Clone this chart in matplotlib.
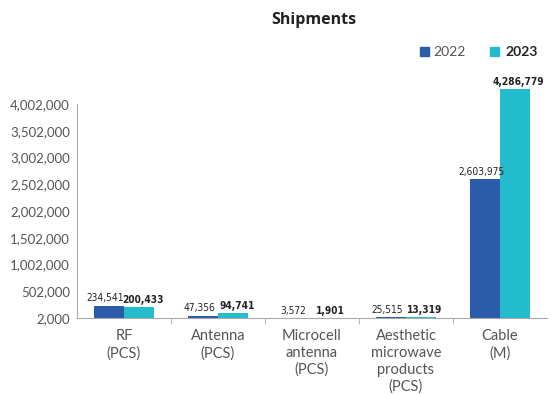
import numpy as np
import matplotlib.pyplot as plt

categories = ["RF\n(PCS)", "Antenna\n(PCS)", "Microcell\nantenna\n(PCS)",
              "Aesthetic\nmicrowave\nproducts\n(PCS)", "Cable\n(M)"]
values_2022 = [234541, 47356, 3572, 25515, 2603975]
values_2023 = [200433, 94741, 1901, 13319, 4286779]
y_ticks = [2000, 502000, 1002000, 1502000, 2002000, 2502000, 3002000, 3502000, 4002000]

c2022 = "#2a5caa"
c2023 = "#22bccc"

fig = plt.figure(figsize=(5.51, 3.94), dpi=100)
ax = fig.add_axes([0.1397, 0.193, 0.853, 0.597])

x = np.arange(len(categories))
w = 0.32
ax.bar(x - w / 2, values_2022, w, color=c2022)
ax.bar(x + w / 2, values_2023, w, color=c2023)

# value labels, spread a little apart like the original
for i in range(len(x)):
    ax.text(x[i] - w / 2 - 0.04, values_2022[i] + 40000, f"{values_2022[i]:,}",
            ha="center", va="bottom", fontsize=7.3, family="DejaVu Sans",
            fontstretch="condensed", color="#222222")
    ax.text(x[i] + w / 2 + 0.04, values_2023[i] + 40000, f"{values_2023[i]:,}",
            ha="center", va="bottom", fontsize=7.3, family="DejaVu Sans",
            fontstretch="condensed", fontweight="bold", color="#222222")

ax.set_xlim(-0.5, len(categories) - 0.5)
ax.set_ylim(2000, 4400000)
ax.set_yticks(y_ticks)
ax.set_yticklabels([f"{v:,}" for v in y_ticks], fontsize=9.5, color="#555555",
                   family="Lato")
ax.tick_params(axis="y", length=0, pad=5)

ax.set_xticks(x)
ax.set_xticklabels(categories, fontsize=10.5, color="#555555", family="Lato",
                   linespacing=1.25)
ax.tick_params(axis="x", which="major", length=0, pad=8)
ax.set_xticks(np.arange(0.5, len(categories) - 1, 1), minor=True)
ax.tick_params(axis="x", which="minor", length=4, color="#aaaaaa")

for s in ["top", "right"]:
    ax.spines[s].set_visible(False)
ax.spines["left"].set_bounds(2000, 4002000)
ax.spines["left"].set_color("#aaaaaa")
ax.spines["bottom"].set_color("#aaaaaa")

fig.text(0.57, 0.948, "Shipments", ha="center", va="center", fontsize=11.5,
         fontweight="bold", family="Open Sans", color="#222222")

# legend
fig.patches.append(plt.Rectangle((0.762, 0.857), 0.016, 0.024, color=c2022,
                                 transform=fig.transFigure, figure=fig))
fig.text(0.787, 0.868, "2022", va="center", fontsize=10, family="Lato",
         color="#555555")
fig.patches.append(plt.Rectangle((0.889, 0.857), 0.016, 0.024, color=c2023,
                                 transform=fig.transFigure, figure=fig))
fig.text(0.918, 0.868, "2023", va="center", fontsize=10, family="Lato",
         fontweight="bold", color="#222222")

fig.savefig("out.png", dpi=100)
